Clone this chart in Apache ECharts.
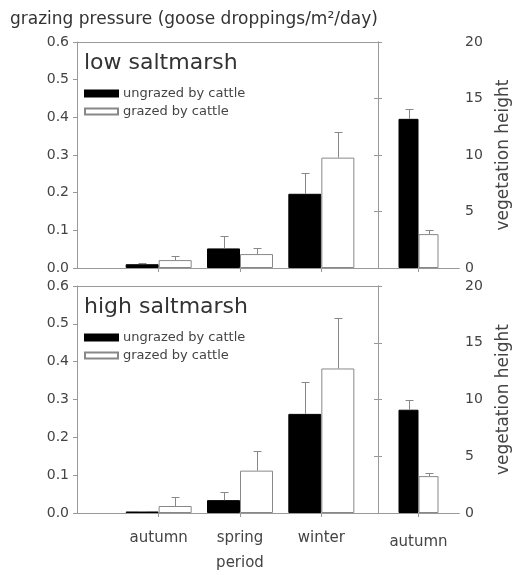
<!DOCTYPE html>
<html>
<head>
<meta charset="utf-8">
<script src="https://cdn.jsdelivr.net/npm/echarts@6/dist/echarts.min.js"></script>
<style>
  html, body { margin: 0; padding: 0; background: #fff; }
  #main { width: 513px; height: 575px; }
</style>
</head>
<body>
<div id="main"></div>
<script>
// periods on the grazing-pressure part, and the single one on the vegetation-height part
var periods = ['autumn', 'spring', 'winter'];
var heightPeriod = ['autumn'];

// low saltmarsh
var lowUngrazed = [0.010, 0.052, 0.197];
var lowUngrazedErr = [0.003, 0.032, 0.056];
var lowGrazed = [0.021, 0.037, 0.293];
var lowGrazedErr = [0.011, 0.017, 0.069];
var lowHeightUngrazed = [13.2];
var lowHeightUngrazedErr = [0.9];
var lowHeightGrazed = [3.0];
var lowHeightGrazedErr = [0.35];

// high saltmarsh
var highUngrazed = [0.004, 0.034, 0.262];
var highUngrazedErr = [0.002, 0.022, 0.083];
var highGrazed = [0.0185, 0.112, 0.382];
var highGrazedErr = [0.025, 0.053, 0.133];
var highHeightUngrazed = [9.1];
var highHeightUngrazedErr = [0.85];
var highHeightGrazed = [3.25];
var highHeightGrazedErr = [0.3];

var FONT = 'DejaVu Sans';
var AXIS = '#999';
var TXT = '#444';

var myChart = echarts.init(document.getElementById('main'));

var option = {
  animation: false,
  title: [{
    text: 'grazing pressure (goose droppings/m²/day)',
    left: 10, top: 11, padding: 0,
    textStyle: { fontFamily: FONT, fontSize: 17, fontWeight: 'normal', color: '#333' }
  }],
  legend: [],
  grid: [],
  xAxis: [],
  yAxis: [],
  series: []
};

// upward error bar drawn from the top of each bar
function errBar(xi, yi, vals, errs, shift) {
  return {
    type: 'custom',
    xAxisIndex: xi,
    yAxisIndex: yi,
    z: 5,
    silent: true,
    data: vals.map(function (v, i) { return [i, v, v + errs[i]]; }),
    renderItem: function (params, api) {
      var a = api.coord([api.value(0), api.value(1)]);
      var b = api.coord([api.value(0), api.value(2)]);
      var x = Math.round(a[0] + shift) + 0.5;
      var y = Math.round(b[1]) + 0.5;
      return {
        type: 'group',
        children: [
          { type: 'line', shape: { x1: x, y1: a[1], x2: x, y2: y }, style: { stroke: '#888', lineWidth: 1 } },
          { type: 'line', shape: { x1: x - 4, y1: y, x2: x + 4, y2: y }, style: { stroke: '#888', lineWidth: 1 } }
        ]
      };
    }
  };
}

function lineOnly(gridIndex, pos) {
  return {
    gridIndex: gridIndex, type: 'value', min: 0, max: 1, position: pos,
    axisLine: { show: true, lineStyle: { color: AXIS } },
    axisTick: { show: false }, axisLabel: { show: false }, splitLine: { show: false }
  };
}

function addPanel(top, height, label, showX, d) {
  var g = option.grid.length;
  var xa = option.xAxis.length;
  var ya = option.yAxis.length;

  option.grid.push({ left: 77, top: top, width: 301, height: height });  // frame, left part
  option.grid.push({ left: 118, top: top, width: 244, height: height }); // bars, left part
  option.grid.push({ left: 378, top: top, width: 83, height: height });  // vegetation height part

  // frame of left part
  option.xAxis.push(lineOnly(g, 'bottom'));
  option.xAxis.push(lineOnly(g, 'top'));
  option.yAxis.push({
    gridIndex: g, type: 'value', min: 0, max: 0.6, interval: 0.1,
    axisLine: { show: true, lineStyle: { color: AXIS } },
    axisTick: { show: true, length: 4, lineStyle: { color: AXIS } },
    axisLabel: { margin: 8, color: TXT, fontFamily: FONT, fontSize: 14,
      formatter: function (v) { return v.toFixed(1); } },
    splitLine: { show: false }
  });

  // bars, left part
  option.xAxis.push({
    gridIndex: g + 1, type: 'category', data: periods,
    axisLine: { show: false },
    axisTick: { show: true, alignWithLabel: true, length: 4, lineStyle: { color: AXIS } },
    axisLabel: { show: showX, margin: 18, color: TXT, fontFamily: FONT, fontSize: 15 },
    name: showX ? 'period' : '', nameLocation: 'middle', nameGap: 43,
    nameTextStyle: { color: TXT, fontFamily: FONT, fontSize: 15 }
  });
  option.yAxis.push({ gridIndex: g + 1, type: 'value', min: 0, max: 0.6, show: false });

  // vegetation height part
  option.xAxis.push({
    gridIndex: g + 2, type: 'category', data: heightPeriod,
    axisLine: { show: true, lineStyle: { color: AXIS } },
    axisTick: { show: true, alignWithLabel: true, length: 4, lineStyle: { color: AXIS } },
    axisLabel: { show: showX, margin: 22, color: TXT, fontFamily: FONT, fontSize: 15 }
  });
  option.xAxis.push(lineOnly(g + 2, 'top'));
  option.yAxis.push({
    gridIndex: g + 2, type: 'value', position: 'right', min: 0, max: 20, interval: 5,
    axisLine: { show: true, lineStyle: { color: AXIS } },
    axisTick: { show: true, length: 4, lineStyle: { color: AXIS } },
    axisLabel: { margin: 6, color: TXT, fontFamily: FONT, fontSize: 14 },
    splitLine: { show: false },
    name: 'vegetation height', nameLocation: 'middle', nameRotate: 90, nameGap: 36,
    nameTextStyle: { color: TXT, fontFamily: FONT, fontSize: 17 }
  });
  option.yAxis.push({
    gridIndex: g + 2, type: 'value', position: 'left', min: 0, max: 20, interval: 5,
    axisLine: { show: true, lineStyle: { color: AXIS } },
    axisTick: { show: true, length: 4, lineStyle: { color: AXIS } },
    axisLabel: { show: false }, splitLine: { show: false }
  });

  var black = { color: '#000', borderColor: '#000', borderWidth: 1 };
  var white = { color: '#fff', borderColor: '#888', borderWidth: 1 };

  option.series.push(
    { name: 'ungrazed by cattle', type: 'bar', xAxisIndex: xa + 2, yAxisIndex: ya + 1,
      barWidth: 33, barGap: '0%', itemStyle: black, data: d.ungrazed },
    { name: 'grazed by cattle', type: 'bar', xAxisIndex: xa + 2, yAxisIndex: ya + 1,
      barWidth: 33, barGap: '0%', itemStyle: white, data: d.grazed },
    errBar(xa + 2, ya + 1, d.ungrazed, d.ungrazedErr, -16.5),
    errBar(xa + 2, ya + 1, d.grazed, d.grazedErr, 16.5),
    { name: 'ungrazed by cattle', type: 'bar', xAxisIndex: xa + 3, yAxisIndex: ya + 2,
      barWidth: 20, barGap: '0%', itemStyle: black, data: d.hUngrazed },
    { name: 'grazed by cattle', type: 'bar', xAxisIndex: xa + 3, yAxisIndex: ya + 2,
      barWidth: 20, barGap: '0%', itemStyle: white, data: d.hGrazed },
    errBar(xa + 3, ya + 2, d.hUngrazed, d.hUngrazedErr, -10),
    errBar(xa + 3, ya + 2, d.hGrazed, d.hGrazedErr, 10)
  );

  option.title.push({
    text: label, left: 84, top: top + 10, padding: 0,
    textStyle: { fontFamily: FONT, fontSize: 22, fontWeight: 'normal', color: '#333' }
  });
  option.legend.push({
    data: ['ungrazed by cattle', 'grazed by cattle'],
    orient: 'vertical', left: 84, top: top + 45, padding: 0,
    itemWidth: 33, itemHeight: 6, itemGap: 5, icon: 'rect', selectedMode: false,
    textStyle: { fontFamily: FONT, fontSize: 13, color: TXT }
  });
}

addPanel(42, 226, 'low saltmarsh', false, {
  ungrazed: lowUngrazed, ungrazedErr: lowUngrazedErr,
  grazed: lowGrazed, grazedErr: lowGrazedErr,
  hUngrazed: lowHeightUngrazed, hUngrazedErr: lowHeightUngrazedErr,
  hGrazed: lowHeightGrazed, hGrazedErr: lowHeightGrazedErr
});
addPanel(286, 227, 'high saltmarsh', true, {
  ungrazed: highUngrazed, ungrazedErr: highUngrazedErr,
  grazed: highGrazed, grazedErr: highGrazedErr,
  hUngrazed: highHeightUngrazed, hUngrazedErr: highHeightUngrazedErr,
  hGrazed: highHeightGrazed, hGrazedErr: highHeightGrazedErr
});

myChart.setOption(option);
</script>
</body>
</html>
